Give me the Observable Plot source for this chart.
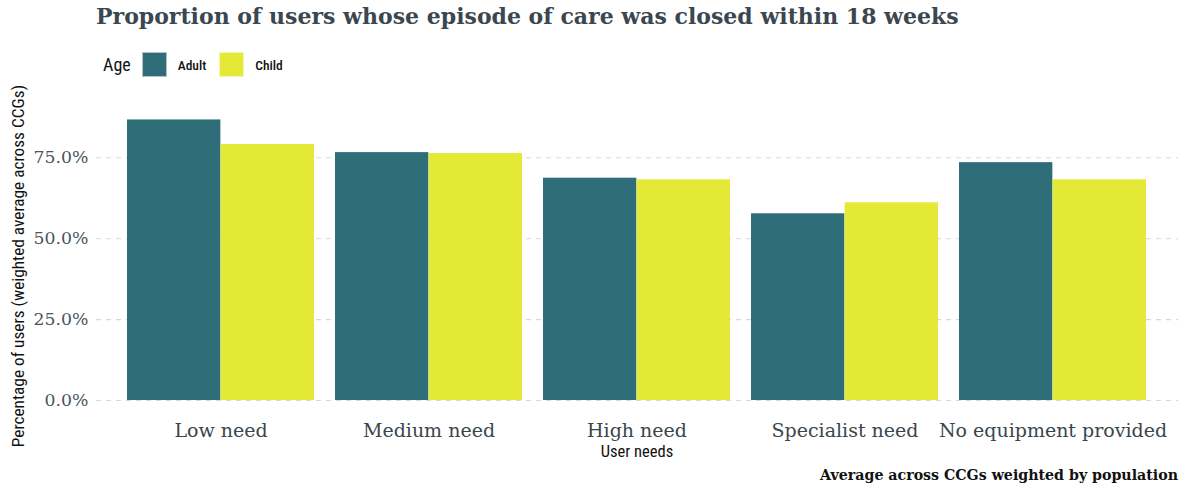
<!DOCTYPE html>
<html>
<head>
<meta charset="utf-8">
<script src="https://cdn.jsdelivr.net/npm/d3@7"></script>
<script src="https://cdn.jsdelivr.net/npm/@observablehq/plot@0.6"></script>
<style>
  html, body { margin: 0; padding: 0; background: #fff; }
  #wrap { position: relative; width: 1181px; height: 485px; overflow: hidden; }
  .abs { position: absolute; white-space: nowrap; }
  #title { left: 96px; top: 3px; font-family: "DejaVu Serif", serif; font-weight: bold; font-size: 22px; color: #3b4750; }
  #legend { left: 103px; top: 52px; height: 25px; display: flex; align-items: center; font-family: "Liberation Sans Narrow", "Roboto Condensed", "Liberation Sans", sans-serif; }
  #legend .lt { font-size: 18px; color: #111; margin-right: 11px; }
  #legend .sw { width: 25px; height: 25px; margin-right: 11px; box-sizing: border-box; border: 1px solid rgba(255,255,255,0.6); }
  #legend .lab { font-size: 13.5px; color: #111; margin-right: 13px; font-weight: 500; }
  #ytitle { left: 18px; top: 266px; transform: translate(-50%, -50%) rotate(-90deg); font-family: "Liberation Sans Narrow", "Roboto Condensed", "Liberation Sans", sans-serif; font-size: 17.3px; color: #111; }
  #xtitle { left: 637px; top: 442px; transform: translateX(-50%); font-family: "Liberation Sans Narrow", "Roboto Condensed", "Liberation Sans", sans-serif; font-size: 16.5px; color: #111; }
  #caption { right: 3px; top: 467px; font-family: "DejaVu Serif", serif; font-weight: bold; font-size: 14.2px; color: #111; }
  #plot { position: absolute; left: 0; top: 86px; }
</style>
</head>
<body>
<div id="wrap">
  <div id="title" class="abs"></div>
  <div id="legend" class="abs"></div>
  <div id="ytitle" class="abs"></div>
  <div id="plot"></div>
  <div id="xtitle" class="abs"></div>
  <div id="caption" class="abs"></div>
</div>
<script>
// ---- data ----
const needs = ["Low need", "Medium need", "High need", "Specialist need", "No equipment provided"];
const ages = ["Adult", "Child"];
const adultValues = [0.867, 0.766, 0.687, 0.577, 0.735];
const childValues = [0.791, 0.763, 0.682, 0.611, 0.682];
const yTicks = [0, 0.25, 0.5, 0.75];
const ageColors = ["#2f6e79", "#e3e935"];
const titleText = "Proportion of users whose episode of care was closed within 18 weeks";
const yTitleText = "Percentage of users (weighted average across CCGs)";
const xTitleText = "User needs";
const captionText = "Average across CCGs weighted by population";
const legendTitle = "Age";

// ---- table ----
const rows = [];
needs.forEach((n, i) => {
  rows.push({need: n, age: ages[0], value: adultValues[i]});
  rows.push({need: n, age: ages[1], value: childValues[i]});
});

const W = 1181, H = 376;
const mLeft = 96, mRight = 3;
const padIn = 0.1, padOut = 0.15;
const step = (W - mLeft - mRight) / (needs.length - padIn + 2 * padOut);
const half = step * (1 - padIn) / 2;

const plot = Plot.plot({
  width: W,
  height: H,
  marginLeft: mLeft,
  marginRight: mRight,
  marginTop: 0,
  marginBottom: 48,
  style: {background: "transparent"},
  x: {domain: needs, paddingInner: padIn, paddingOuter: padOut, label: null},
  y: {domain: [0, 0.75], range: [314, 71.3], label: null},
  color: {domain: ages, range: ageColors},
  marks: [
    Plot.ruleY(yTicks, {stroke: "#d6dad6", strokeWidth: 1.1, strokeDasharray: "5,5"}),
    Plot.barY(rows.filter(d => d.age === ages[0]), {x: "need", y: "value", fill: "age", insetRight: half}),
    Plot.barY(rows.filter(d => d.age === ages[1]), {x: "need", y: "value", fill: "age", insetLeft: half}),
    Plot.axisY(yTicks, {tickSize: 0, tickPadding: 8, tickFormat: d3.format(".1%"), label: null,
      fontFamily: "DejaVu Serif, serif", fontSize: 17.3, color: "#4a565d"}),
    Plot.axisX({tickSize: 0, tickPadding: 9, label: null,
      fontFamily: "DejaVu Serif, serif", fontSize: 19, color: "#3a464c"})
  ]
});
document.getElementById("plot").appendChild(plot);

// ---- texts & legend ----
document.getElementById("title").textContent = titleText;
document.getElementById("ytitle").textContent = yTitleText;
document.getElementById("xtitle").textContent = xTitleText;
document.getElementById("caption").textContent = captionText;

const cs = plot.scale("color");
const leg = document.getElementById("legend");
const lt = document.createElement("span");
lt.className = "lt"; lt.textContent = legendTitle; leg.appendChild(lt);
cs.domain.forEach((a, i) => {
  const sw = document.createElement("span");
  sw.className = "sw"; sw.style.background = cs.range[i]; leg.appendChild(sw);
  const lb = document.createElement("span");
  lb.className = "lab"; lb.textContent = a; leg.appendChild(lb);
});
</script>
</body>
</html>
